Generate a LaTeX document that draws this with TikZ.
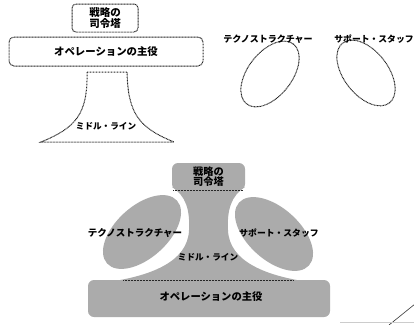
\documentclass[tikz,border=0pt]{standalone}
\usepackage{fontspec}
\setmainfont{Noto Sans CJK JP}
\begin{document}
\begin{tikzpicture}[x=1pt,y=-1pt,
  dotline/.style={draw=black!85, line width=1pt, dash pattern=on 0.9pt off 0.6pt},
  dotbox/.style={dotline, rounded corners=4pt, inner sep=0pt},
  tone/.style={fill=black!33},
  gapfill/.style={fill=white},
  lbl/.style={inner sep=0pt, align=center, text=black, font=\bfseries},
]
\useasboundingbox (0,0) rectangle (414,324);

% ===== top figure (outlines) =====
\node[dotbox, minimum width=66pt, minimum height=28pt] (tsbox) at (105,18) {};
\node[dotbox, rounded corners=5pt, minimum width=194pt, minimum height=29pt] (topbox) at (106,51.5) {};
\draw[dotline] (87,72) -- (127,72)
  .. controls (128,115) and (140,128) .. (174,142)
  -- (41,142)
  .. controls (75,128) and (88,115) .. cycle;
\draw[dotline, rotate around={52:(270,74)}] (270,74) ellipse [x radius=38, y radius=22];
\draw[dotline, rotate around={-52:(366,73)}] (366,73) ellipse [x radius=38, y radius=22];

\node[lbl, font=\bfseries\fontsize{10.5}{11}\selectfont] (tstxt) at (tsbox) {戦略の\\司令塔};
\node[lbl, font=\bfseries\fontsize{10.4}{12}\selectfont] (toptxt) at (topbox) {オペレーションの主役};
\node[lbl, font=\bfseries\fontsize{8.6}{10}\selectfont] (mltxt) at (106,126) {ミドル・ライン};
\node[lbl, font=\bfseries\fontsize{9}{10}\selectfont] (tetxt) at (268,39) {テクノストラクチャー};
\node[lbl, font=\bfseries\fontsize{8.8}{10}\selectfont] (sptxt) at (374,39) {サポート・スタッフ};

% ===== bottom figure (toned) =====
\fill[tone] (172,187) .. controls (186,196) and (190,210) .. (189,230)
  .. controls (188,262) and (150,276) .. (108,282) -- (309,282)
  .. controls (267,276) and (229,262) .. (228,230)
  .. controls (227,210) and (231,196) .. (245,187) -- cycle;
\node[tone, rounded corners=6pt, minimum width=242pt, minimum height=37pt, inner sep=0pt] (obox) at (209,298.5) {};
\node[tone, rounded corners=6pt, minimum width=73pt, minimum height=27pt, inner sep=0pt] (sbox) at (208.5,176.5) {};
\fill[gapfill, rotate around={42:(142,232)}] (142,232) ellipse [x radius=51, y radius=29];
\fill[gapfill, rotate around={-42:(274,234)}] (274,234) ellipse [x radius=51, y radius=29];
\fill[tone, rotate around={42:(142,232)}] (142,232) ellipse [x radius=47, y radius=26];
\fill[tone, rotate around={-42:(274,234)}] (274,234) ellipse [x radius=47, y radius=26];

\coordinate (sbl) at (173,190); \coordinate (sbr) at (243,190);
\draw[dotline] (sbl) -- (sbr);
\coordinate (obl) at (123,280); \coordinate (obr) at (293,280);
\draw[dotline] (obl) -- (obr);

\node[lbl, font=\bfseries\fontsize{10.2}{10.5}\selectfont] (btstxt) at (sbox) {戦略の\\司令塔};
\node[lbl, font=\bfseries\fontsize{8.6}{10}\selectfont] (bmltxt) at (208,257) {ミドル・ライン};
\node[lbl, font=\bfseries\fontsize{9.5}{10}\selectfont] (btetxt) at (135,233) {テクノストラクチャー};
\node[lbl, font=\bfseries\fontsize{8.8}{10}\selectfont] (bsptxt) at (279,233) {サポート・スタッフ};
\node[lbl, font=\bfseries\fontsize{10.3}{12}\selectfont] (bottxt) at (211,297) {オペレーションの主役};

% ===== stray scan marks =====
\coordinate (d1) at (389,325); \coordinate (d2) at (415,304);
\draw[line width=0.6pt, black!80] (d1) -- (d2);
\coordinate (h1) at (340,322); \coordinate (h2) at (414,322);
\draw[line width=1pt, black!20] (h1) -- (h2);
\end{tikzpicture}
\end{document}
